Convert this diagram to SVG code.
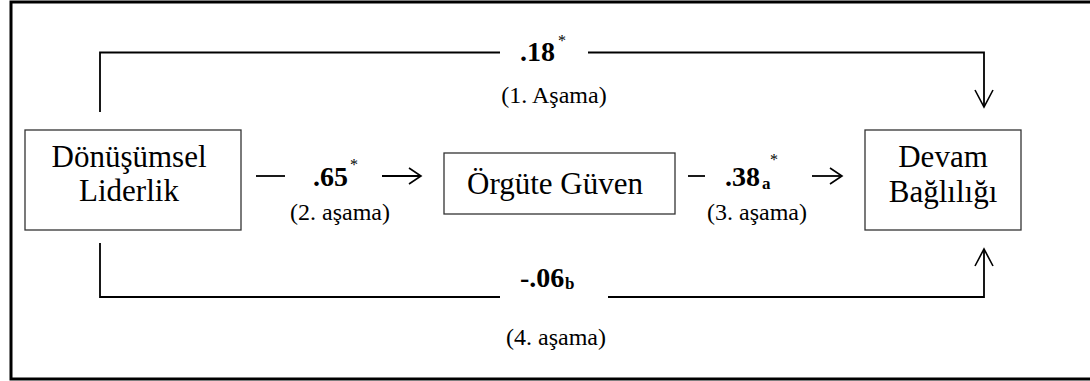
<svg xmlns="http://www.w3.org/2000/svg" width="1090" height="381" viewBox="0 0 1090 381">
<style>
.box{fill:#fff;stroke:#333;stroke-width:1.3}
.node{font-family:"Liberation Serif","Times New Roman",serif;font-size:31px;fill:#000;text-anchor:middle}
.val{font-family:"Liberation Serif","Times New Roman",serif;font-size:28px;font-weight:bold;fill:#000}
.sub{font-family:"Liberation Serif","Times New Roman",serif;font-size:17px;font-weight:bold;fill:#000}
.sup{font-family:"Liberation Serif","Times New Roman",serif;font-size:16px;fill:#000}
.lbl{font-family:"Liberation Serif","Times New Roman",serif;font-size:24px;fill:#000;text-anchor:middle}
.ln{fill:none;stroke:#000;stroke-width:1.8}
.ah{fill:none;stroke:#000;stroke-width:1.6}
</style>
<path d="M1092,2 H11 V379 H1092" fill="none" stroke="#000" stroke-width="3"/>
<g id="connectors">
  <path class="ln" d="M100,112 V52.5 H500"/>
  <path class="ln" d="M588,52.5 H984 V107"/>
  <path class="ah" d="M975,90 L984,107 L993,90"/>
  <path class="ln" d="M100,243 V297 H500"/>
  <path class="ln" d="M608,297 H984 V249"/>
  <path class="ah" d="M975,266 L984,249 L993,266"/>
  <path class="ln" d="M256,176 H285"/>
  <path class="ln" d="M382,176 H421"/>
  <path class="ah" d="M409,168 L421,176 L409,184"/>
  <path class="ln" d="M688,176 H705"/>
  <path class="ln" d="M812,176 H842"/>
  <path class="ah" d="M830,168 L842,176 L830,184"/>
</g>
<g id="labels">
  <text class="val" x="520" y="61">.18</text><text class="sup" x="558" y="46">*</text>
  <text class="lbl" x="554" y="103">(1. Aşama)</text>
  <text class="val" x="313" y="186">.65</text><text class="sup" x="350" y="170">*</text>
  <text class="lbl" x="340" y="220">(2. aşama)</text>
  <text class="val" x="725" y="186">.38</text><text class="sub" x="762" y="189">a</text><text class="sup" x="770" y="165">*</text>
  <text class="lbl" x="757" y="220">(3. aşama)</text>
  <text class="val" x="520" y="287">-.06</text><text class="sub" x="565" y="289">b</text>
  <text class="lbl" x="556" y="345">(4. aşama)</text>
</g>
<g id="node-donusumsel">
  <rect class="box" x="25" y="130" width="216" height="100"/>
  <text class="node" x="129" y="167">Dönüşümsel</text>
  <text class="node" x="129" y="201">Liderlik</text>
</g>
<g id="node-orgute">
  <rect class="box" x="444" y="153" width="231" height="61"/>
  <text class="node" x="555" y="194">Örgüte Güven</text>
</g>
<g id="node-devam">
  <rect class="box" x="865" y="130" width="156" height="100"/>
  <text class="node" x="943" y="167">Devam</text>
  <text class="node" x="943" y="202">Bağlılığı</text>
</g>
</svg>
